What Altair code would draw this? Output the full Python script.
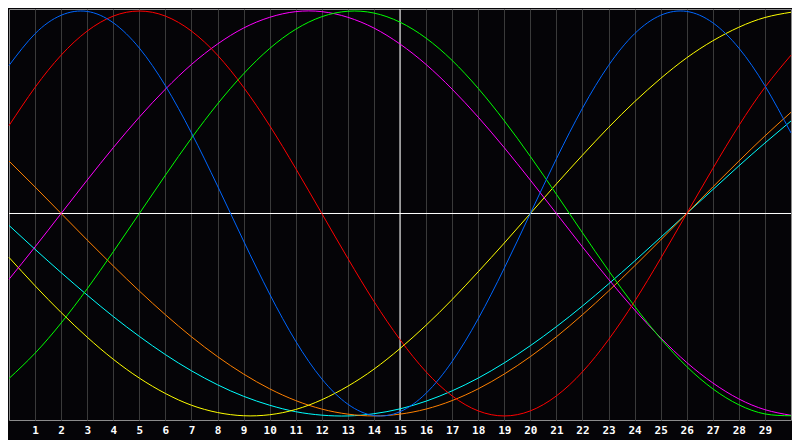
import altair as alt
import pandas as pd

days = list(range(31))
tick_days = list(range(1, 30))

physical = [0.731, 0.888, 0.979, 0.998, 0.942, 0.817, 0.631, 0.398, 0.136, -0.136,
            -0.398, -0.631, -0.817, -0.942, -0.998, -0.979, -0.888, -0.731, -0.520, -0.270,
            0.0, 0.270, 0.520, 0.731, 0.888, 0.979, 0.998, 0.942, 0.817, 0.631, 0.398]
emotional = [0.434, 0.623, 0.782, 0.901, 0.975, 1.0, 0.975, 0.901, 0.782, 0.623,
             0.434, 0.222, 0.0, -0.222, -0.434, -0.623, -0.782, -0.901, -0.975, -1.0,
             -0.975, -0.901, -0.782, -0.623, -0.434, -0.222, 0.0, 0.222, 0.434, 0.623, 0.782]
intellectual = [-0.815, -0.690, -0.541, -0.372, -0.189, 0.0, 0.189, 0.372, 0.541, 0.690,
                0.815, 0.910, 0.972, 0.999, 0.990, 0.945, 0.866, 0.756, 0.618, 0.458,
                0.282, 0.095, -0.095, -0.282, -0.458, -0.618, -0.756, -0.866, -0.945, -0.990, -0.999]
intuitive = [-0.325, -0.165, 0.0, 0.165, 0.325, 0.476, 0.614, 0.736, 0.837, 0.916,
             0.969, 0.997, 0.997, 0.969, 0.916, 0.837, 0.736, 0.614, 0.476, 0.325,
             0.165, 0.0, -0.165, -0.325, -0.476, -0.614, -0.736, -0.837, -0.916, -0.969, -0.997]
aesthetic = [-0.217, -0.357, -0.489, -0.611, -0.720, -0.813, -0.889, -0.947, -0.983, -0.999,
             -0.994, -0.968, -0.920, -0.853, -0.769, -0.667, -0.552, -0.425, -0.288, -0.146,
             0.0, 0.146, 0.288, 0.425, 0.552, 0.667, 0.769, 0.853, 0.920, 0.968, 0.994]
awareness = [0.259, 0.131, 0.0, -0.131, -0.259, -0.383, -0.500, -0.609, -0.707, -0.793,
             -0.866, -0.924, -0.966, -0.991, -1.0, -0.991, -0.966, -0.924, -0.866, -0.793,
             -0.707, -0.609, -0.500, -0.383, -0.259, -0.131, 0.0, 0.131, 0.259, 0.383, 0.500]
spiritual = [-0.059, -0.177, -0.292, -0.403, -0.509, -0.607, -0.697, -0.777, -0.846, -0.903,
             -0.947, -0.979, -0.996, -1.0, -0.989, -0.965, -0.927, -0.876, -0.813, -0.738,
             -0.653, -0.559, -0.457, -0.348, -0.235, -0.118, 0.0, 0.118, 0.235, 0.348, 0.457]

cycle_names = ["Spiritual", "Awareness", "Aesthetic", "Intuitive", "Intellectual", "Emotional", "Physical"]
cycle_values = [spiritual, awareness, aesthetic, intuitive, intellectual, emotional, physical]
cycle_colors = ["#00ffff", "#ff8000", "#ffff00", "#ff00ff", "#00ff00", "#ff0000", "#0066ff"]

today = [15]
zero = [0]

rows = []
for name, vals in zip(cycle_names, cycle_values):
    for d, v in zip(days, vals):
        rows.append({"day": d, "value": v, "cycle": name})
df = pd.DataFrame(rows)

xscale = alt.Scale(domain=[0, 30], nice=False, zero=False)
yscale = alt.Scale(domain=[-1.02, 1.01], nice=False, zero=False)
xaxis = alt.Axis(values=tick_days, grid=True, gridColor="#3a3a3a", gridWidth=1,
                 domain=False, ticks=False, labelColor="white",
                 labelFont="DejaVu Sans Mono", labelFontWeight="bold",
                 labelFontSize=11, labelPadding=4, title=None,
                 labelFlush=False, labelOverlap=False)

lines = alt.Chart(df).mark_line(strokeWidth=1, interpolate="natural").encode(
    x=alt.X("day:Q", scale=xscale, axis=xaxis),
    y=alt.Y("value:Q", scale=yscale, axis=None),
    color=alt.Color("cycle:N", scale=alt.Scale(domain=cycle_names, range=cycle_colors), legend=None),
    detail="cycle:N",
)

vrule = alt.Chart(pd.DataFrame({"day": today})).mark_rule(color="white", strokeWidth=1).encode(
    x=alt.X("day:Q", scale=xscale, axis=xaxis)
)
hrule = alt.Chart(pd.DataFrame({"value": zero})).mark_rule(color="white", strokeWidth=1).encode(
    y=alt.Y("value:Q", scale=yscale, axis=None)
)

chart = alt.layer(vrule, hrule, lines).properties(
    width=782, height=411,
    autosize=alt.AutoSizeParams(type="none"),
    padding={"left": 1, "top": 1, "right": 1, "bottom": 20},
    background="#050407",
).configure_view(stroke="#8c8c8c", strokeWidth=1)

chart.save("out.html", embed_options={"renderer": "svg", "actions": False})
